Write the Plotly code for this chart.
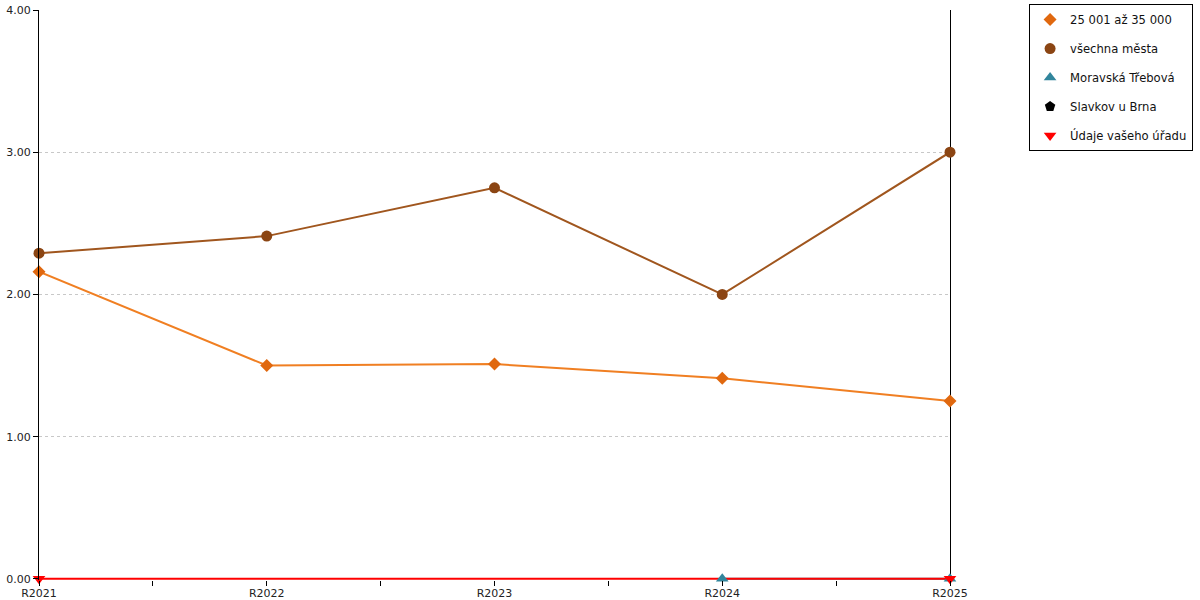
import plotly.graph_objects as go

categories = ["R2021", "R2022", "R2023", "R2024", "R2025"]
s_25001 = [2.16, 1.50, 1.51, 1.41, 1.25]
s_vsechna = [2.29, 2.41, 2.75, 2.00, 3.00]
s_moravska = [None, None, None, 0.0, 0.0]
s_slavkov = [None, None, None, None, None]
s_urad = [0.0, None, None, None, 0.0]

x = list(range(len(categories)))

series = [
    ("25 001 až 35 000", s_25001, "#F07F22", "#E0680F", "diamond", 10),
    ("všechna města", s_vsechna, "#A0561E", "#8B4513", "circle", 11),
    ("Moravská Třebová", s_moravska, "#31859C", "#31859C", "triangle-up", 11),
    ("Slavkov u Brna", s_slavkov, "#000000", "#000000", "pentagon", 11),
    ("Údaje vašeho úřadu", s_urad, "#FF0000", "#FF0000", "triangle-down", 11),
]

fig = go.Figure()
for i, (name, vals, lc, mc, sym, sz) in enumerate(series):
    fig.add_trace(go.Scatter(x=x, y=vals, mode="lines", connectgaps=True,
                             line=dict(color=lc, width=2), showlegend=False,
                             hoverinfo="skip", legendgroup=f"g{i}"))
for i, (name, vals, lc, mc, sym, sz) in enumerate(series):
    fig.add_trace(go.Scatter(x=x, y=vals, name=name, mode="markers", cliponaxis=False,
                             marker=dict(symbol=sym, size=sz, color=mc),
                             legendgroup=f"g{i}"))

fig.update_layout(
    width=1200, height=600,
    margin=dict(l=39, r=250, t=10, b=20, autoexpand=False),
    paper_bgcolor="white", plot_bgcolor="white",
    font=dict(family="DejaVu Sans", size=11, color="#222222"),
    showlegend=True,
    legend=dict(x=1.0868, y=1.0105, xanchor="left", yanchor="top",
                bordercolor="#000000", borderwidth=1,
                font=dict(size=11.6, color="#111111"),
                tracegroupgap=10, itemwidth=30),
    xaxis=dict(range=[0, 4], tickvals=x, ticktext=categories,
               showgrid=False, zeroline=False, showline=False,
               ticks="outside", ticklen=5, tickcolor="#000000",
               minor=dict(ticks="outside", dtick=0.5, tick0=0, ticklen=5, tickcolor="#000000"),
               tickfont=dict(size=11), ticklabelstandoff=-2,
               fixedrange=True, automargin=False),
    yaxis=dict(range=[-0.008, 4], tickvals=[0, 1, 2, 3, 4], tickformat=".2f",
               showgrid=True, gridcolor="#C8C8C8", griddash="dot", gridwidth=1,
               zeroline=False, showline=True, linecolor="#000000", linewidth=1,
               ticks="outside", ticklen=5, tickcolor="#000000",
               tickfont=dict(size=11), automargin=False),
)
fig.add_shape(type="line", xref="paper", yref="paper", x0=1.00055, x1=1.00055, y0=0, y1=1,
              line=dict(color="#000000", width=1), layer="below")

fig.write_html("out.html", config={"displayModeBar": False},
               post_script="document.body.style.margin='0';document.body.style.padding='0';")
